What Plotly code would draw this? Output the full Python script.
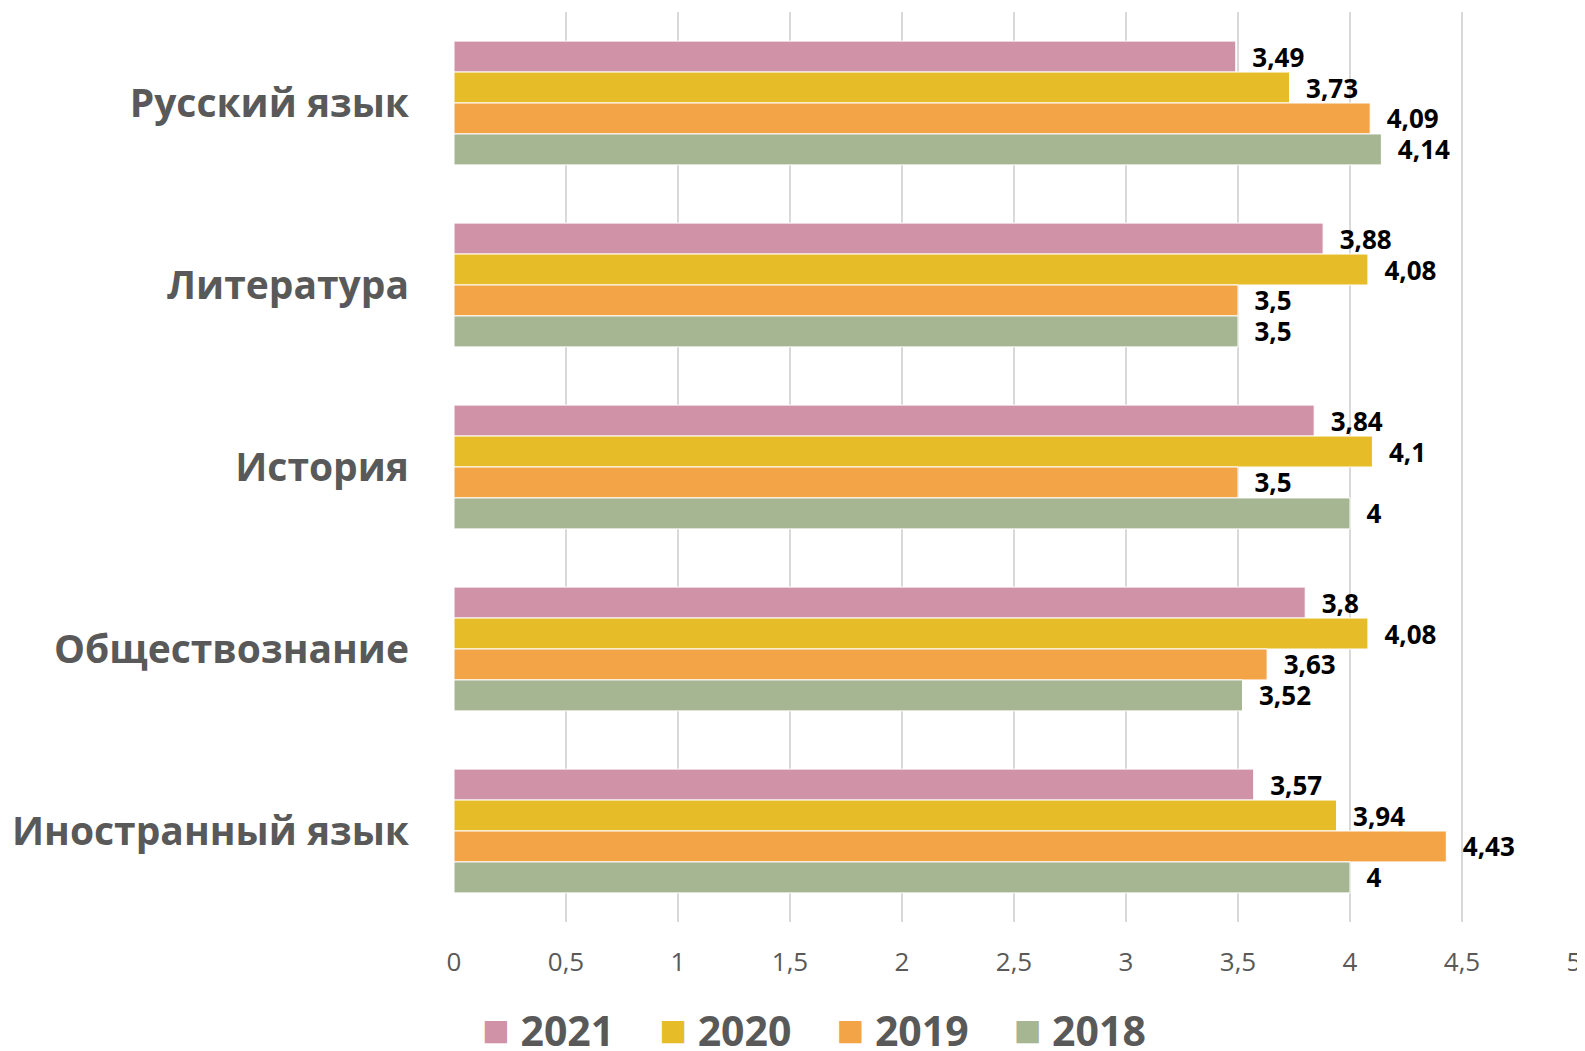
import plotly.graph_objects as go

subjects = ["Русский язык", "Литература", "История", "Обществознание", "Иностранный язык"]
years = ["2021", "2020", "2019", "2018"]
values_2021 = [3.49, 3.88, 3.84, 3.8, 3.57]
values_2020 = [3.73, 4.08, 4.1, 4.08, 3.94]
values_2019 = [4.09, 3.5, 3.5, 3.63, 4.43]
values_2018 = [4.14, 3.5, 4.0, 3.52, 4.0]
colors = ["#D092A7", "#E6BC29", "#F3A447", "#A6B592"]

series = [values_2021, values_2020, values_2019, values_2018]


def fmt(v):
    return "  " + f"{v:g}".replace(".", ",")


fig = go.Figure()
for year, vals, color in zip(years, series, colors):
    fig.add_trace(go.Bar(
        y=subjects,
        x=vals,
        name=year,
        orientation="h",
        showlegend=False,
        marker=dict(color=color, line=dict(color="white", width=1)),
        text=[fmt(v) for v in vals],
        textposition="outside",
        constraintext="none",
        cliponaxis=False,
        textfont=dict(family="Open Sans", size=26, color="black", weight="bold"),
    ))

# legend entries with big square swatches
for year, color in zip(years, colors):
    fig.add_trace(go.Scatter(
        x=[None], y=[None],
        mode="lines",
        line=dict(width=0, color="white"),
        name=f"<span style='color:{color};font-size:46px'>■</span> {year}",
        hoverinfo="skip",
    ))

fig.update_layout(
    width=1577,
    height=1043,
    barmode="group",
    bargap=0.32,
    bargroupgap=0,
    separators=", ",
    plot_bgcolor="white",
    paper_bgcolor="white",
    margin=dict(l=446, r=11, t=4, b=129),
    font=dict(family="Open Sans", color="#595959"),
    legend=dict(
        orientation="h",
        xref="container", x=0.5, xanchor="center",
        yref="container", y=0.02, yanchor="middle",
        font=dict(size=41, weight="bold", color="#595959"),
        itemwidth=30,
        traceorder="normal",
    ),
    xaxis=dict(
        range=[0, 5],
        dtick=0.5,
        showgrid=True,
        gridcolor="#D9D9D9",
        gridwidth=2,
        zeroline=False,
        showline=False,
        tickfont=dict(size=26, color="#595959"),
        ticklabelstandoff=22,
    ),
    yaxis=dict(
        autorange="reversed",
        showgrid=False,
        showline=False,
        tickfont=dict(size=39, color="#595959", weight="bold"),
        ticklabelstandoff=44,
    ),
)

fig.write_html("out.html")
